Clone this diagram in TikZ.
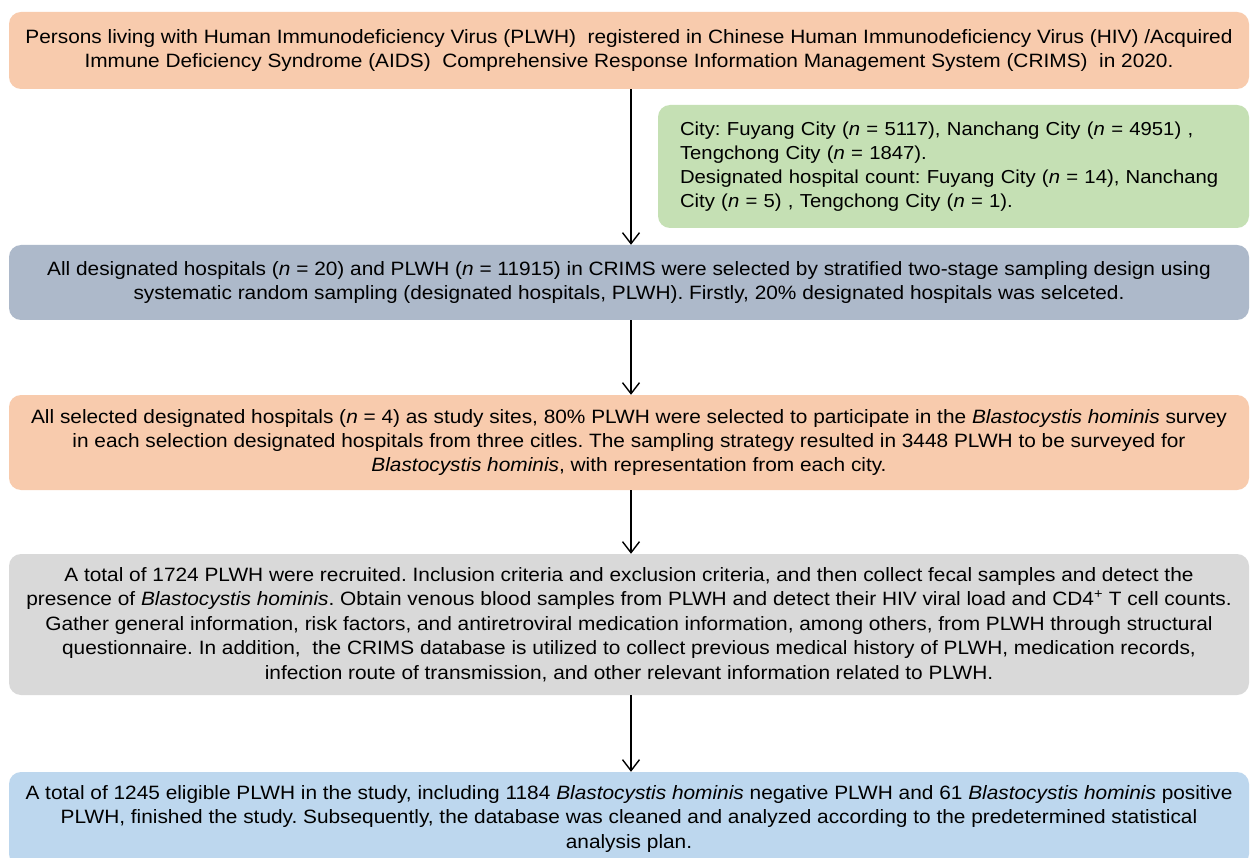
\documentclass[tikz,border=0pt]{standalone}
\usepackage{fontspec}
\setmainfont{Liberation Sans}[FakeStretch=1.08]
\usetikzlibrary{arrows.meta}
\definecolor{corange}{HTML}{F8CBAD}
\definecolor{cgreen}{HTML}{C5E0B4}
\definecolor{cslate}{HTML}{ADB9CA}
\definecolor{cgray}{HTML}{D9D9D9}
\definecolor{cblue}{HTML}{BDD7EE}
\tikzset{
  flowbox/.style={rounded corners=12pt, inner sep=0pt, align=center,
    font=\fontsize{19.3}{24.4}\selectfont\frenchspacing, text=black, minimum width=1240pt},
  notebox/.style={rounded corners=12pt, inner sep=0pt, align=left, fill=cgreen,
    font=\fontsize{18.8}{23.8}\selectfont\frenchspacing, text=black, minimum width=591pt, minimum height=123pt,
    text width=547pt},
  flowarrow/.style={line width=1.4pt, -{Straight Barb[length=11pt, width=17pt, line width=1.4pt]}}
}
\begin{document}
\begin{tikzpicture}[x=1pt, y=-1pt]
\clip (0,0) rectangle (1250,858);
\fill[white] (0,0) rectangle (1250,858);
\coordinate (ax) at (631,0);

\node[flowbox, fill=corange, minimum height=77pt] (b1) at (629,50.5)
 {Persons living with Human Immunodeficiency Virus (PLWH)\ \ registered in Chinese Human Immunodeficiency Virus (HIV) /Acquired\\
  Immune Deficiency Syndrome (AIDS)\ \ Comprehensive Response Information Management System (CRIMS)\ \ in 2020.};

\node[notebox] (g) at (953.5,166.5)
 {City: Fuyang City (\textit{n} = 5117), Nanchang City (\textit{n} = 4951) ,\\
  Tengchong City (\textit{n} = 1847).\\
  Designated hospital count: Fuyang City (\textit{n} = 14), Nanchang\\
  City (\textit{n} = 5) , Tengchong City (\textit{n} = 1).};

\node[flowbox, fill=cslate, minimum height=75pt] (b2) at (629,282.5)
 {All designated hospitals (\textit{n} = 20) and PLWH (\textit{n} = 11915) in CRIMS were selected by stratified two-stage sampling design using\\
  systematic random sampling (designated hospitals, PLWH). Firstly, 20\% designated hospitals was selceted.};

\node[flowbox, fill=corange, minimum height=95pt] (b3) at (629,442.5)
 {All selected designated hospitals (\textit{n} = 4) as study sites, 80\% PLWH were selected to participate in the \textit{Blastocystis hominis} survey\\
  in each selection designated hospitals from three citles. The sampling strategy resulted in 3448 PLWH to be surveyed for\\
  \textit{Blastocystis hominis}, with representation from each city.};

\node[flowbox, fill=cgray, minimum height=141pt] (b4) at (629,624.5)
 {A total of 1724 PLWH were recruited. Inclusion criteria and exclusion criteria, and then collect fecal samples and detect the\\
  presence of \textit{Blastocystis hominis}. Obtain venous blood samples from PLWH and detect their HIV viral load and CD4\textsuperscript{+} T cell counts.\\
  Gather general information, risk factors, and antiretroviral medication information, among others, from PLWH through structural\\
  questionnaire. In addition,\ \ the CRIMS database is utilized to collect previous medical history of PLWH, medication records,\\
  infection route of transmission, and other relevant information related to PLWH.};

\node[flowbox, fill=cblue, minimum height=94pt] (b5) at (629,819)
 {A total of 1245 eligible PLWH in the study, including 1184 \textit{Blastocystis hominis} negative PLWH and 61 \textit{Blastocystis hominis} positive\\
  PLWH, finished the study. Subsequently, the database was cleaned and analyzed according to the predetermined statistical\\
  analysis plan.};

\draw[flowarrow] (b1.south -| ax) -- (b2.north -| ax);
\draw[flowarrow] (b2.south -| ax) -- (b3.north -| ax);
\draw[flowarrow] (b3.south -| ax) -- (b4.north -| ax);
\draw[flowarrow] (b4.south -| ax) -- (b5.north -| ax);
\end{tikzpicture}
\end{document}
